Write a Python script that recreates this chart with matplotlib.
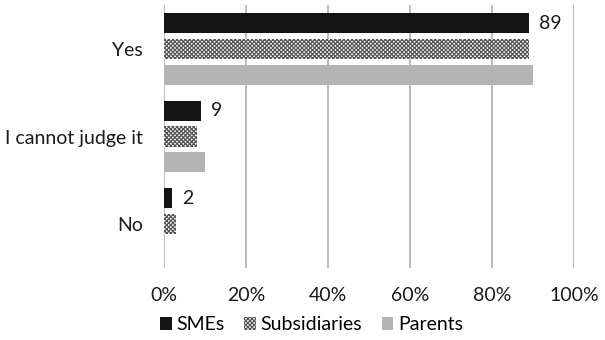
import matplotlib
matplotlib.use("Agg")
import matplotlib.pyplot as plt
import numpy as np

plt.rcParams['font.family'] = ['Lato', 'DejaVu Sans']
plt.rcParams['hatch.linewidth'] = 0.9

categories = ["Yes", "I cannot judge it", "No"]
series_names = ["SMEs", "Subsidiaries", "Parents"]
smes = [89, 9, 2]
subsidiaries = [89, 8, 3]
parents = [90, 10, 0]
x_ticks = [0, 20, 40, 60, 80, 100]
x_tick_labels = ["0%", "20%", "40%", "60%", "80%", "100%"]

fig = plt.figure(figsize=(6.05, 3.4), dpi=100)
ax = fig.add_axes([0.271, 0.212, 0.678, 0.773])

y = np.arange(len(categories))
h = 0.23
step = 0.295

b1 = ax.barh(y - step, smes, height=h, color="#141414", label=series_names[0], zorder=3)
b2 = ax.barh(y, subsidiaries, height=h, color="white", edgecolor="#555555",
             hatch="xxxxxxxx", linewidth=0, label=series_names[1], zorder=3)
b3 = ax.barh(y + step, parents, height=h, color="#b4b4b4", label=series_names[2], zorder=3)

for yi, v in zip(y, smes):
    ax.text(v + 2.4, yi - step, f"{v}", va="center", ha="left", fontsize=14, color="#1a1a1a")

ax.set_ylim(len(categories) - 0.5, -0.5)
ax.set_xlim(0, 100)
ax.set_yticks(y)
ax.set_yticklabels(categories, fontsize=14, color="#1a1a1a")
ax.set_xticks(x_ticks)
ax.set_xticklabels(x_tick_labels, fontsize=14, color="#1a1a1a")
ax.tick_params(axis="x", length=0, pad=14)
ax.tick_params(axis="y", length=0, pad=15)
ax.grid(axis="x", color="#b0b0b0", linewidth=1.2, zorder=0)
for s in ax.spines.values():
    s.set_visible(False)

leg = fig.legend(handles=[b1, b2, b3], loc="center", bbox_to_anchor=(0.515, 0.045),
                 ncol=3, frameon=False, fontsize=14, handlelength=0.6, handleheight=0.6,
                 handletextpad=0.25, columnspacing=1.0)

fig.savefig("out.png", dpi=100)
